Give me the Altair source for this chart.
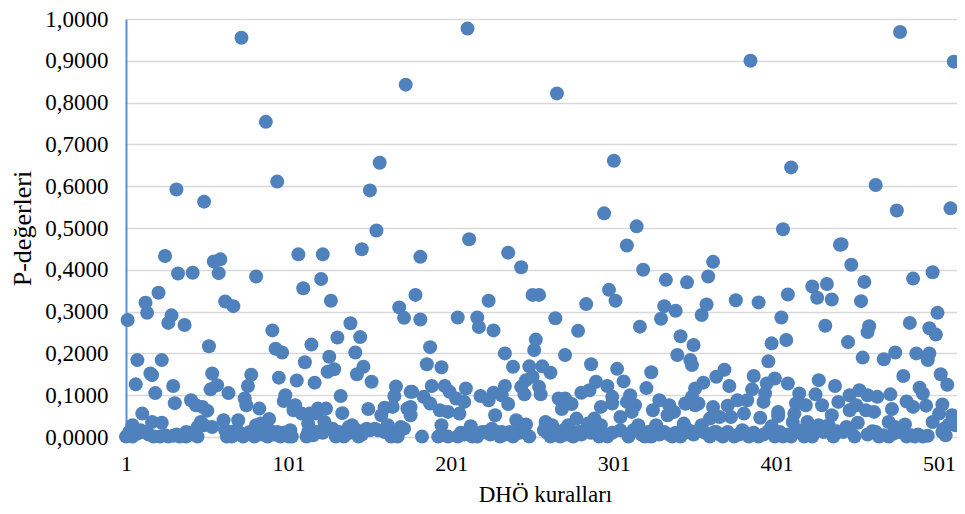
import altair as alt
import pandas as pd

tick_values_x = [1, 101, 201, 301, 401, 501]
tick_values_y = [0, .1, .2, .3, .4, .5, .6, .7, .8, .9, 1.0]

upper = [(72,.955),(87,.754),(94,.611),(32,.592),(49,.563),(211,.977),(173,.843),(266,.822),(385,.9),(477,.969),(510,.898),
(157,.656),(151,.59),(155,.494),(301,.661),(295,.535),(315,.504),(410,.645),(405,.497),(462,.603),(475,.542),(508,.547),(212,.473),(441,.461)]

first = [(2,.28),(8,.184),(7,.126),(16,.152),(17,.148),(11,.056),(19,.105),(23,.184),(30,.122),(31,.081),(13,.321),(14,.297),(21,.345),(25,.433),(33,.391),(42,.393),(29,.291),(27,.273),(37,.268),(52,.217),(55,.42),(59,.425),(58,.392),(62,.324),(67,.313),(81,.384),(54,.152),(57,.124),(53,.114),(64,.105),(78,.149),(76,.122),(74,.092),(75,.076),(83,.068),(41,.088),(44,.076),(51,.063),(48,.072),(47,.036),(61,.04),(70,.04),(89,.043),(84,.032),(91,.255),(93,.211),(97,.202),(95,.142),(99,.1),(98,.086),(105,.076),(104,.064),(107,.437),(122,.437),(110,.356),(121,.378),(127,.326),(146,.449),(115,.221),(111,.179),(126,.192),(129,.162),(125,.156),(106,.135),(117,.13),(139,.272),(131,.238),(145,.239),(142,.202),(147,.168),(143,.15),(152,.132),(133,.098),(134,.057),(150,.067),(169,.31),(172,.285),(167,.121),(166,.098),(176,.108),(165,.072),(160,.07),(158,.052),(174,.068),(119,.068),(124,.068),(114,.056),(109,.056),(118,.056),(123,.036),(113,.032),(140,.028),(162,.028),(170,.024)]

first_low = [(5,.028),(3,.012),(10,.016),(17,.036),(23,.034),(38,.012),(45,.024),(49,.028),(54,.024),(62,.016),(69,.016),(81,.028),(87,.012),(94,.012),(102,.016),(113,.012),(120,.012),(128,.02),(138,.024),(143,.016),(156,.016)]

first_zero = [(1,.001),(5,.001),(18,.001),(22,.001),(27,.001),(34,.001),(38,.001),(45,.001),(63,.001),(66,.001),(73,.001),(80,.001),(88,.001),(96,.001),(101,.001),(103,.001),(112,.001),(118,.012),(130,.001),(135,.001),(144,.001),(149,.02),(154,.02),(164,.001),(168,.001)]

first_row = [(8,.008),(12,.012),(15,.006),(25,.004),(30,.003),(32,.006),(36,.004),(40,.01),(43,.006),(65,.012),(68,.006),(71,.01),(74,.004),(77,.012),(82,.01),(85,.006),(90,.014),(92,.006),(98,.01),(100,.006),(115,.008),(116,.004),(122,.01),(132,.012),(133,.004),(137,.008),(141,.01),(146,.006),(151,.016),(160,.012),(163,.01),(166,.006)]

second = [(182,.431),(236,.441),(244,.406),(319,.4),(333,.376),(346,.37),(179,.34),(182,.281),(205,.286),(217,.286),(218,.263),(224,.326),(227,.255),(251,.34),(255,.34),(265,.284),(284,.318),(298,.352),(302,.326),(279,.254),(317,.264),(330,.283),(332,.313),(339,.302),(342,.241),(350,.22),(188,.215),(186,.174),(195,.167),(234,.2),(239,.168),(249,.169),(253,.233),(252,.208),(257,.169),(262,.154),(271,.196),(287,.174),(303,.163),(307,.133),(324,.155),(321,.117),(340,.196),(348,.184),(349,.172),(309,.458),(189,.122),(197,.122),(210,.116),(177,.108),(184,.096),(188,.08),(200,.108),(204,.092),(209,.084),(206,.056),(199,.06),(194,.064),(176,.072),(176,.052),(195,.028)]

second_mid = [(219,.098),(224,.088),(227,.106),(234,.122),(232,.1),(236,.079),(228,.052),(244,.12),(246,.102),(247,.136),(251,.144),(255,.12),(256,.102),(267,.092),(271,.092),(275,.079),(269,.067),(281,.106),(286,.112),(290,.132),(297,.122),(300,.096),(300,.08),(293,.072),(311,.1),(309,.084),(314,.076),(312,.06),(305,.048),(325,.064),(329,.088),(335,.076),(334,.052),(338,.06),(345,.08),(349,.096),(351,.116),(351,.076)]

second_low = [(241,.04),(247,.03),(259,.036),(263,.028),(278,.044),(273,.028),(289,.044),(285,.032),(293,.028),(213,.026),(226,.02),(220,.012),(316,.028),(327,.028),(344,.032),(347,.016),(305,.016),(172,.02),(207,.01),(243,.01),(258,.016),(270,.016),(283,.016),(289,.012),(232,.012)]

second_zero = [(183,.001),(193,.001),(199,.001),(205,.001),(214,.001),(217,.001),(231,.001),(239,.001),(249,.001),(262,.001),(268,.001),(276,.001),(292,.001),(297,.001),(310,.001),(320,.001),(324,.001),(337,.001),(342,.001)]

second_row = [(209,.006),(211,.01),(216,.006),(222,.012),(225,.006),(229,.012),(234,.006),(237,.012),(241,.008),(246,.012),(260,.01),(265,.014),(272,.006),(274,.014),(279,.012),(281,.006),(287,.01),(295,.006),(300,.01),(313,.016),(318,.006),(322,.012),(329,.006),(332,.012),(335,.006),(339,.01)]

third = [(440,.46),(447,.412),(362,.419),(359,.384),(497,.394),(485,.379),(455,.371),(423,.36),(432,.366),(426,.333),(435,.329),(453,.325),(408,.341),(376,.327),(390,.322),(358,.317),(355,.292),(404,.286),(500,.297),(483,.273),(431,.266),(458,.265),(457,.251),(495,.26),(499,.245),(445,.227),(398,.224),(407,.232),(474,.202),(467,.186),(454,.19),(487,.2),(495,.2),(494,.184),(396,.181),(369,.161),(364,.144),(356,.13),(372,.122),(387,.146),(400,.14),(408,.128),(427,.136),(437,.122),(479,.146),(502,.15),(506,.125),(489,.118),(491,.104)]

third_mid = [(395,.128),(386,.114),(394,.104),(393,.084),(415,.104),(425,.102),(452,.112),(446,.1),(457,.1),(463,.096),(471,.102),(481,.085),(485,.072),(493,.075),(503,.078),(472,.067),(429,.076),(413,.08),(419,.076),(439,.084),(450,.076),(456,.064),(461,.06),(446,.064),(509,.052),(501,.056),(497,.036),(511,.028),(503,.012),(505,.004),(345,.08),(353,.08),(362,.072),(371,.075),(377,.088),(383,.088),(381,.056),(373,.048),(366,.048),(360,.044),(355,.028),(344,.028)]

third_low = [(402,.06),(402,.05),(391,.046),(398,.026),(412,.056),(411,.036),(420,.036),(427,.028),(435,.052),(433,.028),(444,.024),(451,.034),(470,.036),(480,.03),(474,.024),(460,.014),(380,.016),(364,.012),(360,.001),(368,.001),(375,.001),(384,.001),(390,.001),(400,.001),(405,.001),(410,.001),(418,.001),(423,.001),(436,.001),(449,.001),(464,.001),(470,.001),(481,.001),(486,.001),(491,.001)]

third_row = [(346,.012),(350,.006),(352,.014),(357,.01),(363,.012),(366,.006),(371,.012),(378,.006),(381,.012),(387,.01),(393,.006),(396,.014),(403,.012),(408,.006),(414,.016),(416,.01),(421,.012),(425,.016),(430,.012),(438,.014),(442,.012),(446,.018),(457,.006),(462,.012),(467,.004),(473,.008),(477,.012),(484,.004),(488,.006),(494,.003),(504,.02),(507,.03)]

rows = (upper + first + first_low + first_zero + first_row + second + second_mid
        + second_low + second_zero + second_row + third + third_mid + third_low + third_row)
data = pd.DataFrame(rows, columns=["rule", "p"])

FONT = "Liberation Serif"

chart = (
    alt.Chart(data)
    .mark_point(filled=True, size=196, opacity=1, color="#4f81bd", clip=False)
    .encode(
        x=alt.X(
            "rule:Q",
            scale=alt.Scale(domain=[1, 512], nice=False, zero=False),
            axis=alt.Axis(
                values=tick_values_x, grid=False, domain=False, ticks=False,
                labelFont=FONT, labelFontSize=22, labelColor="#000000", labelPadding=16,
                title="DHÖ kuralları", titleFont=FONT, titleFontSize=23,
                titleFontWeight="normal", titleColor="#000000", titlePadding=9, titleX=419,
                labelFlush=False, labelOverlap=False,
            ),
        ),
        y=alt.Y(
            "p:Q",
            scale=alt.Scale(domain=[0, 1], nice=False),
            axis=alt.Axis(
                values=tick_values_y, grid=True, gridColor="#d9d9d9", gridWidth=1.5,
                domain=True, domainColor="#5b8fd0", domainWidth=2, ticks=False,
                labelFont=FONT, labelFontSize=23, labelColor="#000000", labelPadding=18,
                labelExpr="replace(format(datum.value, '.4f'), '.', ',')",
                title="P-değerleri", titleFont=FONT, titleFontSize=26,
                titleFontWeight="normal", titleColor="#000000", titlePadding=9,
            ),
        ),
    )
    .properties(
        width=831, height=418,
        autosize=alt.AutoSizeParams(type="none"),
        padding={"left": 118, "top": 11, "right": 0, "bottom": 70},
    )
    .configure_view(stroke=None)
)

chart.save("out.html", embed_options={"renderer": "svg", "actions": False})
